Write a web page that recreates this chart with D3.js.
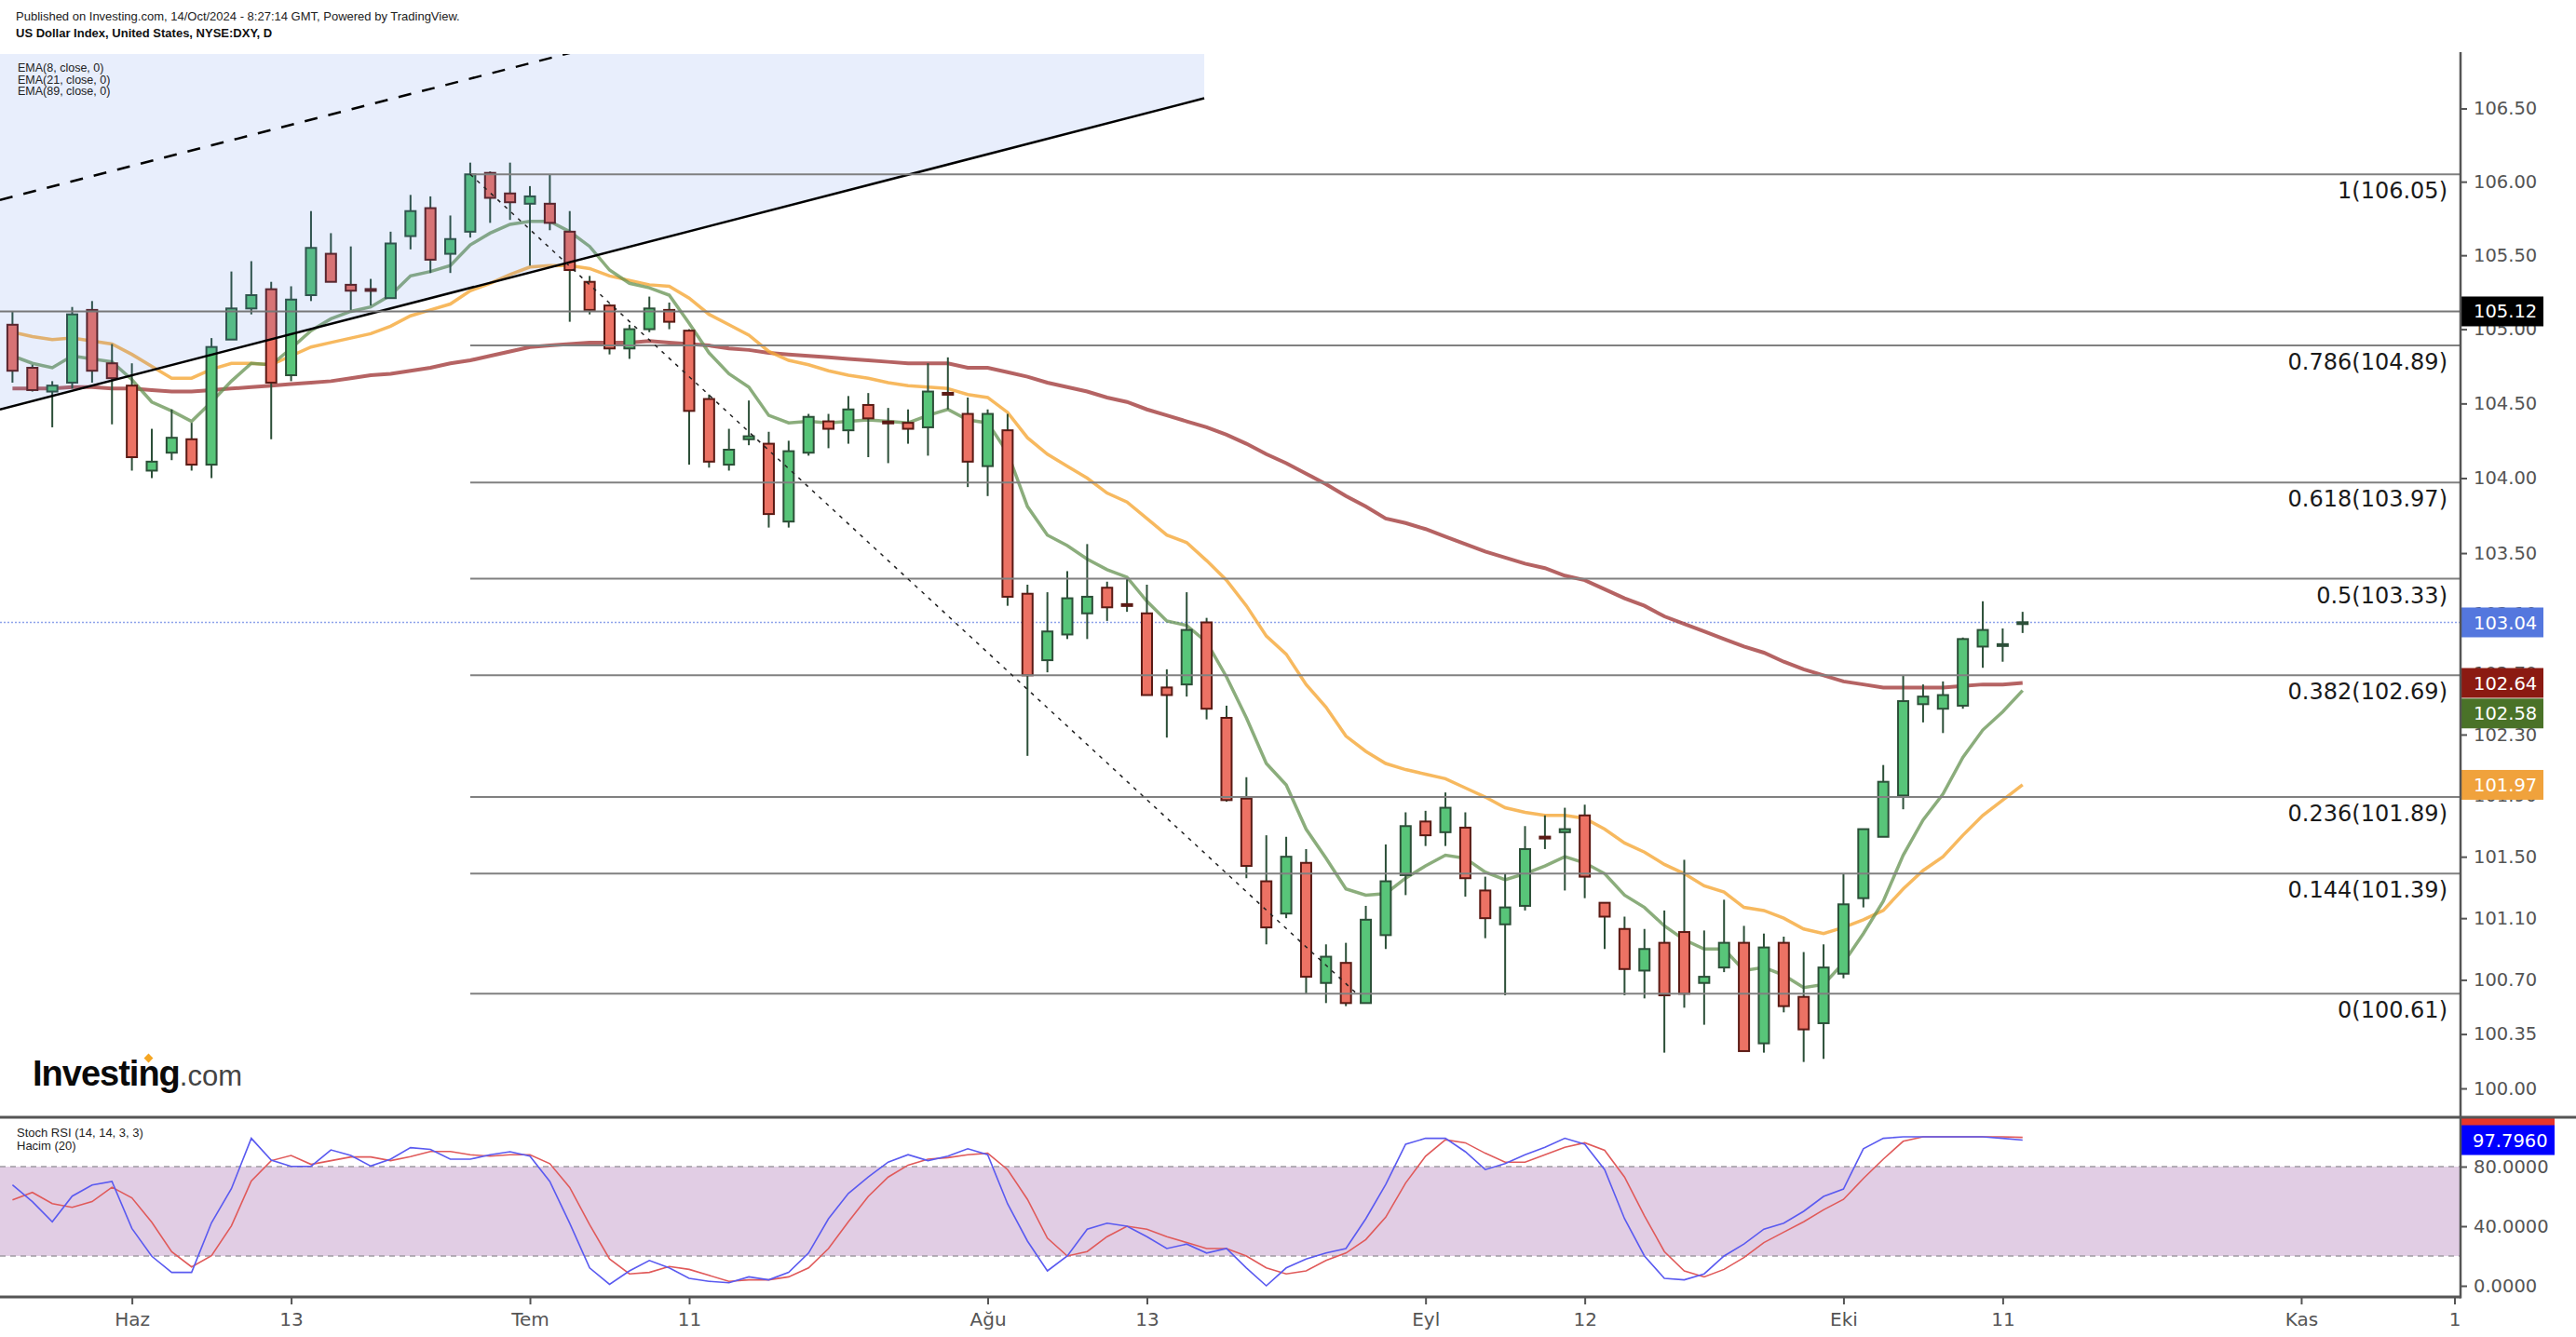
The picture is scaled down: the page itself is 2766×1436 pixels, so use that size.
<!DOCTYPE html>
<html><head><meta charset="utf-8">
<script src="https://cdn.jsdelivr.net/npm/d3@7"></script>
<style>body{margin:0;background:#fff;}svg{display:block}</style>
</head><body>
<svg id="c" width="2766" height="1436"></svg>
<script>
// ---------- DATA ----------
const days = ("05-24 05-27 05-28 05-29 05-30 05-31 06-03 06-04 06-05 06-06 06-07 06-10 06-11 06-12 06-13 06-14 06-17 06-18 06-19 06-20 06-21 06-24 06-25 06-26 06-27 06-28 " +
  "07-01 07-02 07-03 07-04 07-05 07-08 07-09 07-10 07-11 07-12 07-15 07-16 07-17 07-18 07-19 07-22 07-23 07-24 07-25 07-26 07-29 07-30 07-31 " +
  "08-01 08-02 08-05 08-06 08-07 08-08 08-09 08-12 08-13 08-14 08-15 08-16 08-19 08-20 08-21 08-22 08-23 08-26 08-27 08-28 08-29 08-30 " +
  "09-02 09-03 09-04 09-05 09-06 09-09 09-10 09-11 09-12 09-13 09-16 09-17 09-18 09-19 09-20 09-23 09-24 09-25 09-26 09-27 09-30 " +
  "10-01 10-02 10-03 10-04 10-07 10-08 10-09 10-10 10-11 10-14").split(" ");

const open = [105.03,104.74,104.58,104.64,105.13,104.77,104.62,104.05,104.17,104.26,104.09,104.93,105.14,105.27,104.69,105.23,105.51,105.30,105.27,105.21,105.63,105.82,105.51,105.66,106.06,105.92,
  105.85,105.85,105.66,105.32,105.16,104.87,105.00,105.13,104.99,104.53,104.09,104.26,104.23,103.71,104.17,104.38,104.32,104.49,104.375,104.37,104.34,104.57,104.43,
  104.08,104.32,103.23,102.79,102.96,103.10,103.27,103.16,103.10,102.61,102.63,103.04,102.41,101.88,101.34,101.13,101.46,100.68,100.81,100.55,100.99,
  101.38,101.73,101.66,101.69,101.28,101.06,101.18,101.63,101.66,101.77,101.20,101.03,100.76,100.94,101.01,100.68,100.78,100.94,100.29,100.94,100.59,100.42,
  100.74,101.23,101.63,101.90,102.50,102.47,102.49,102.88,102.89,103.03];
const high = [105.12,104.76,104.65,105.15,105.19,104.90,104.77,104.33,104.46,104.37,104.94,105.39,105.46,105.32,105.29,105.80,105.65,105.56,105.34,105.66,105.91,105.90,105.77,106.13,106.07,106.13,
  105.97,106.05,105.80,105.36,105.17,105.03,105.22,105.18,105.00,104.56,104.33,104.52,104.31,104.25,104.43,104.43,104.55,104.57,104.47,104.46,104.77,104.81,104.54,
  104.46,104.43,103.29,103.24,103.38,103.56,103.31,103.33,103.29,102.73,103.24,103.07,102.49,102.02,101.64,101.63,101.55,100.93,100.94,101.18,101.58,
  101.79,101.80,101.92,101.79,101.37,101.39,101.70,101.77,101.82,101.84,101.20,101.11,101.03,101.15,101.48,101.02,101.22,101.05,101.00,100.98,100.88,100.93,
  101.39,101.68,102.10,102.69,102.63,102.65,102.94,103.18,103.00,103.11];
const low = [104.64,104.58,104.34,104.60,104.64,104.36,104.05,104.00,104.12,104.05,104.00,104.93,105.10,104.26,104.65,105.19,105.32,105.13,105.16,105.21,105.54,105.38,105.38,105.62,105.72,105.74,
  105.43,105.67,105.05,105.10,104.83,104.80,104.98,105.00,104.09,104.07,104.05,104.22,103.67,103.67,104.15,104.20,104.23,104.14,104.10,104.23,104.15,104.46,103.94,
  103.88,103.15,102.16,102.71,102.93,102.93,103.05,103.11,102.56,102.28,102.55,102.40,101.86,101.36,100.93,101.10,100.61,100.55,100.53,100.55,100.90,
  101.25,101.57,101.57,101.24,100.97,100.60,101.15,101.55,101.28,101.23,100.90,100.60,100.58,100.23,100.52,100.41,100.75,100.24,100.23,100.49,100.17,100.19,
  100.71,101.17,101.63,101.81,102.38,102.31,102.47,102.74,102.78,102.97];
const close = [104.72,104.59,104.62,105.10,104.72,104.67,104.14,104.11,104.27,104.09,104.88,105.14,105.23,104.64,105.20,105.55,105.32,105.26,105.26,105.58,105.80,105.47,105.61,106.05,105.89,105.86,
  105.90,105.72,105.40,105.13,104.87,105.00,105.14,105.05,104.45,104.11,104.19,104.28,103.76,104.18,104.41,104.33,104.46,104.40,104.37,104.33,104.58,104.56,104.11,
  104.43,103.21,102.69,102.98,103.20,103.21,103.14,103.15,102.56,102.56,102.99,102.47,101.87,101.44,101.04,101.50,100.72,100.85,100.55,101.09,101.34,
  101.70,101.64,101.82,101.36,101.10,101.17,101.55,101.62,101.68,101.37,101.11,100.77,100.90,100.60,100.61,100.72,100.94,100.24,100.91,100.53,100.38,100.78,
  101.19,101.68,101.99,102.52,102.55,102.56,102.93,102.99,102.89,103.04];

const ema8 = [104.82,104.77,104.74,104.82,104.80,104.78,104.66,104.51,104.45,104.38,104.51,104.65,104.77,104.76,104.87,104.99,105.07,105.12,105.15,105.23,105.36,105.39,105.43,105.57,105.65,105.71,
  105.73,105.73,105.66,105.56,105.40,105.31,105.28,105.23,105.04,104.84,104.70,104.61,104.42,104.37,104.38,104.37,104.38,104.39,104.38,104.37,104.42,104.46,104.39,
  104.37,104.17,103.81,103.62,103.55,103.46,103.39,103.34,103.18,103.05,103.02,102.91,102.68,102.41,102.11,101.97,101.68,101.49,101.29,101.25,101.26,
  101.36,101.44,101.51,101.49,101.40,101.35,101.39,101.44,101.50,101.46,101.39,101.25,101.17,101.05,100.96,100.90,100.90,100.76,100.78,100.73,100.65,100.67,
  100.81,101.00,101.21,101.51,101.74,101.91,102.15,102.33,102.45,102.59];
const ema21 = [104.98,104.95,104.93,104.94,104.92,104.90,104.83,104.75,104.67,104.67,104.73,104.77,104.77,104.76,104.82,104.88,104.91,104.94,104.97,105.02,105.09,105.13,105.17,105.26,105.31,105.37,
  105.42,105.43,105.43,105.41,105.36,105.33,105.30,105.29,105.21,105.10,105.03,104.96,104.85,104.79,104.76,104.72,104.69,104.67,104.64,104.62,104.61,104.60,104.56,
  104.54,104.44,104.27,104.16,104.08,104.00,103.90,103.84,103.73,103.62,103.57,103.45,103.32,103.15,102.95,102.83,102.63,102.48,102.29,102.19,102.11,
  102.07,102.04,102.01,101.95,101.89,101.82,101.79,101.77,101.77,101.75,101.68,101.59,101.53,101.45,101.39,101.31,101.27,101.17,101.15,101.10,101.03,101.00,
  101.04,101.09,101.15,101.29,101.41,101.50,101.64,101.77,101.87,101.97];
const ema89 = [104.60,104.60,104.60,104.61,104.61,104.60,104.60,104.59,104.58,104.58,104.59,104.60,104.61,104.62,104.63,104.64,104.65,104.67,104.69,104.70,104.72,104.74,104.77,104.79,104.82,104.85,
  104.88,104.89,104.90,104.91,104.91,104.91,104.92,104.91,104.90,104.89,104.87,104.86,104.84,104.83,104.82,104.81,104.80,104.79,104.78,104.77,104.77,104.77,104.74,
  104.74,104.71,104.68,104.64,104.61,104.58,104.54,104.51,104.46,104.42,104.38,104.34,104.29,104.23,104.16,104.10,104.03,103.96,103.88,103.81,103.73,
  103.70,103.66,103.61,103.56,103.51,103.47,103.43,103.40,103.35,103.32,103.26,103.20,103.15,103.08,103.03,102.98,102.93,102.88,102.84,102.78,102.73,102.69,
  102.65,102.63,102.61,102.61,102.61,102.61,102.62,102.63,102.63,102.64];

const stochK = [67.7,56.5,42.9,60.2,67.7,70,38.5,19.8,9,9,42.3,65.2,99,84.4,80.2,80.2,91.2,87.5,80.4,85,92.7,91.6,85,85,88,90,
  87,70,42,12,1,10,17,12,5,3,2,6,4,9,22,45,62,73,83,88,84,87,92,
  88,55,30,10,20,38,42,40,33,25,28,22,25,12,0,12,18,22,25,45,68,
  95,99,99,90,78,82,88,93,99,95,78,45,20,5,4,8,20,28,38,42,50,60,
  65,92,99,100,100,100,100,100,99,97.796];
const stochD = [57.7,62.7,55.2,52.7,56.5,66.2,59,42.7,22.9,12.7,20.2,40.2,70.4,84,87.5,81.5,84,86.5,86.5,84,86.7,90.2,90.2,88,87,88,
  88,82,66,41,18,8,9,13,11,7,3,4,4,6,12,25,43,60,73,81,85,86,88,
  89,78,58,32,20,23,33,40,38,33,29,25,25,20,12,8,10,17,22,31,46,
  69,87,98,96,89,83,83,88,93,96,91,73,47,23,10,6,11,19,29,36,43,51,
  58,72,85,97,100,100,100,100,100,99.6];

const fibLevels = ["1","0.786","0.618","0.5","0.382","0.236","0.144","0"];
const fibPrices = [106.05,104.89,103.97,103.33,102.69,101.89,101.39,100.61];
const fibAnchorIdx = [23, 67.55];
const fibAnchorPrice = [106.05, 100.61];

const priceTicks = [106.5,106,105.5,105,104.5,104,103.5,103.1,102.7,102.3,101.9,101.5,101.1,100.7,100.35,100];
const rsiTicks = [80,40,0];
const dateTickIdx = [6,14,26,34,49,57,71,79,92,100,115,122.7];
const dateTickLabels = ["Haz","13","Tem","11","Ağu","13","Eyl","12","Eki","11","Kas","1"];

const levelLine = 105.12;
const lastPrice = 103.04;
const channelIdx = [-0.63, 59.88];
const channelLower = [104.46, 106.57];
const channelMiddle = [105.876, 108.01];
const channelUpper = [107.31, 109.48];

const priceBoxes = [
  {v:105.12, label:"105.12", color:"#000000", shift:0},
  {v:103.04, label:"103.04", color:"#5477de", shift:0},
  {v:101.97, label:"101.97", color:"#f0a23c", shift:0},
  {v:102.64, label:"102.64", color:"#8b1a12", shift:0},
  {v:102.58, label:"102.58", color:"#4a7228", shift:23}
];

// ---------- LAYOUT ----------
const W = 2766, H = 1436;
const axisX = 2642;
const paneTop = 58, paneBottom = 1200, rsiBottom = 1393;
const AX = "DejaVu Sans, sans-serif", TX = "Liberation Sans, Arial, sans-serif";

const svg = d3.select("#c");
const x = d3.scaleLinear().domain([0, 123]).range([13.4, 13.4 + 123 * 21.37]);
const y = d3.scaleLog().domain([100, 106.5]).range([1169, 116.5]);
const yr = d3.scaleLinear().domain([0, 100]).range([1381, 1221]);

const defs = svg.append("defs");
defs.append("clipPath").attr("id","mainClip").append("rect").attr("x",0).attr("y",paneTop).attr("width",axisX).attr("height",paneBottom-paneTop);
defs.append("clipPath").attr("id","rsiClip").append("rect").attr("x",0).attr("y",paneBottom).attr("width",axisX).attr("height",rsiBottom-paneBottom);
defs.append("clipPath").attr("id","rsiAxisClip").append("rect").attr("x",axisX).attr("y",paneBottom).attr("width",W-axisX).attr("height",rsiBottom-paneBottom);

// header
svg.append("text").attr("x",17).attr("y",22).attr("font-family",TX).attr("font-size",13).attr("fill","#222")
  .text("Published on Investing.com, 14/Oct/2024 - 8:27:14 GMT, Powered by TradingView.");
svg.append("text").attr("x",17).attr("y",40).attr("font-family",TX).attr("font-size",13).attr("font-weight","bold").attr("fill","#111")
  .text("US Dollar Index, United States, NYSE:DXY, D");

const main = svg.append("g").attr("clip-path","url(#mainClip)");

main.append("line").attr("x1",0).attr("x2",axisX).attr("y1",y(lastPrice)).attr("y2",y(lastPrice))
  .attr("stroke","#8da2ea").attr("stroke-width",1.5).attr("stroke-dasharray","2,2");

// EMA lines
const line = d3.line().x((d,i)=>x(i)).y(d=>y(d));
main.append("path").datum(ema89).attr("d",line).attr("fill","none").attr("stroke","rgba(160,55,55,0.78)").attr("stroke-width",4);
main.append("path").datum(ema21).attr("d",line).attr("fill","none").attr("stroke","rgba(245,168,55,0.8)").attr("stroke-width",3.5);
main.append("path").datum(ema8).attr("d",line).attr("fill","none").attr("stroke","rgba(100,145,80,0.75)").attr("stroke-width",3.5);

// candles
const cg = main.append("g");
close.forEach((c,i)=>{
  const o = open[i], up = c >= o;
  const cx = x(i);
  cg.append("line").attr("x1",cx).attr("x2",cx).attr("y1",y(high[i])).attr("y2",y(low[i]))
    .attr("stroke","#2c4f38").attr("stroke-width",2);
  const top = y(Math.max(o,c)), bot = y(Math.min(o,c));
  const h = Math.max(bot-top, 1);
  if (h < 3) {
    cg.append("rect").attr("x",cx-6.5).attr("y",(top+bot)/2-2).attr("width",13).attr("height",4)
      .attr("fill", up ? "#2c4f38" : "#5a1a14");
  } else {
    cg.append("rect").attr("x",cx-5.5).attr("y",top).attr("width",11).attr("height",h)
      .attr("fill", up ? "#58c579" : "#ec7264")
      .attr("stroke", up ? "#2c4f38" : "#5a1a14").attr("stroke-width",2);
  }
});

// channel fill (drawn over series, translucent)
const chPts = [
  [x(channelIdx[0]), y(channelLower[0])], [x(channelIdx[1]), y(channelLower[1])],
  [x(channelIdx[1]), y(channelUpper[1])], [x(channelIdx[0]), y(channelUpper[0])]
];
main.append("path").attr("d", d3.line()(chPts) + "Z").attr("fill","rgba(80,120,230,0.13)");
main.append("line").attr("x1",x(channelIdx[0])).attr("y1",y(channelLower[0])).attr("x2",x(channelIdx[1])).attr("y2",y(channelLower[1]))
  .attr("stroke","#000").attr("stroke-width",2.5);
main.append("line").attr("x1",x(channelIdx[0])).attr("y1",y(channelMiddle[0])).attr("x2",x(channelIdx[1])).attr("y2",y(channelMiddle[1]))
  .attr("stroke","#000").attr("stroke-width",2.5).attr("stroke-dasharray","14,12");

main.append("line").attr("x1",0).attr("x2",axisX).attr("y1",y(levelLine)).attr("y2",y(levelLine))
  .attr("stroke","#777").attr("stroke-width",2);

// fib lines
const fibX0 = x(fibAnchorIdx[0]);
fibPrices.forEach((p,k)=>{
  main.append("line").attr("x1",fibX0).attr("x2",axisX).attr("y1",y(p)).attr("y2",y(p))
    .attr("stroke","#808080").attr("stroke-width",2);
  main.append("text").attr("x",2628).attr("y",y(p)+26).attr("text-anchor","end")
    .attr("font-family",AX).attr("font-size",24).attr("fill","#1a1a1a")
    .text(fibLevels[k] + "(" + p.toFixed(2) + ")");
});
main.append("line").attr("x1",x(fibAnchorIdx[0])).attr("y1",y(fibAnchorPrice[0]))
  .attr("x2",x(fibAnchorIdx[1])).attr("y2",y(fibAnchorPrice[1]))
  .attr("stroke","#222").attr("stroke-width",1.5).attr("stroke-dasharray","4,6");

// EMA legend
["EMA(8, close, 0)","EMA(21, close, 0)","EMA(89, close, 0)"].forEach((t,k)=>{
  svg.append("text").attr("x",19).attr("y",77+k*12.5).attr("font-family",TX).attr("font-size",12.5).attr("fill","#222").text(t);
});

// logo
const logo = svg.append("text").attr("x",35).attr("y",1166).attr("font-family",TX);
logo.append("tspan").attr("font-size",38).attr("font-weight","bold").attr("fill","#0a0a0a").attr("letter-spacing",-1).text("Investing");
logo.append("tspan").attr("font-size",31).attr("fill","#444").text(".com");
svg.append("rect").attr("x",156).attr("y",1133).attr("width",7).attr("height",7).attr("fill","#f5a623")
  .attr("transform","rotate(45,159.5,1136.5)");

// ---------- RSI pane ----------
const rsi = svg.append("g").attr("clip-path","url(#rsiClip)");
rsi.append("rect").attr("x",0).attr("width",axisX).attr("y",yr(80)).attr("height",yr(20)-yr(80)).attr("fill","#e1cde4");
[80,20].forEach(v=>rsi.append("line").attr("x1",0).attr("x2",axisX).attr("y1",yr(v)).attr("y2",yr(v))
  .attr("stroke","#a09aa2").attr("stroke-width",1.5).attr("stroke-dasharray","6,5"));
const rline = d3.line().x((d,i)=>x(i)).y(d=>yr(d));
rsi.append("path").datum(stochD).attr("d",rline).attr("fill","none").attr("stroke","#e05a5a").attr("stroke-width",1.6);
rsi.append("path").datum(stochK).attr("d",rline).attr("fill","none").attr("stroke","#5a5af0").attr("stroke-width",1.6);
svg.append("text").attr("x",18).attr("y",1221).attr("font-family",TX).attr("font-size",13).attr("fill","#222").text("Stoch RSI (14, 14, 3, 3)");
svg.append("text").attr("x",18).attr("y",1235).attr("font-family",TX).attr("font-size",13).attr("fill","#222").text("Hacim (20)");

// ---------- AXES ----------
const ya = svg.append("g").attr("transform",`translate(${axisX},0)`)
  .call(d3.axisRight(y).tickValues(priceTicks).tickFormat(d3.format(".2f")).tickSize(7).tickPadding(7));
ya.select(".domain").remove();
ya.selectAll("line").attr("stroke","#555").attr("stroke-width",2);
ya.selectAll("text").attr("font-family",AX).attr("font-size",19.5).attr("fill","#555");

const ra = svg.append("g").attr("transform",`translate(${axisX},0)`)
  .call(d3.axisRight(yr).tickValues(rsiTicks).tickFormat(d3.format(".4f")).tickSize(7).tickPadding(7));
ra.select(".domain").remove();
ra.selectAll("line").attr("stroke","#555").attr("stroke-width",2);
ra.selectAll("text").attr("font-family",AX).attr("font-size",19.5).attr("fill","#555");

const xa = svg.append("g").attr("transform",`translate(0,${rsiBottom})`)
  .call(d3.axisBottom(x).tickValues(dateTickIdx).tickFormat((d,i)=>dateTickLabels[i]).tickSize(8).tickPadding(9));
xa.select(".domain").remove();
xa.selectAll("line").attr("stroke","#555").attr("stroke-width",2);
xa.selectAll("text").attr("font-family",AX).attr("font-size",20).attr("fill","#555");

// price boxes
priceBoxes.forEach(b=>{
  const cy = y(b.v) + b.shift;
  svg.append("rect").attr("x",axisX).attr("y",cy-16).attr("width",89).attr("height",32).attr("fill",b.color);
  svg.append("text").attr("x",2656).attr("y",cy).attr("dy","0.36em").attr("font-family",AX).attr("font-size",19.5)
    .attr("fill","#fff").text(b.label);
});
// RSI boxes (clipped to the oscillator pane's axis area)
const rb = svg.append("g").attr("clip-path","url(#rsiAxisClip)");
const dLast = stochD[stochD.length-1], kLast = stochK[stochK.length-1];
rb.append("rect").attr("x",axisX).attr("y",yr(dLast)-16-14).attr("width",101).attr("height",32).attr("fill","#e8352a");
rb.append("rect").attr("x",axisX).attr("y",yr(kLast)-16).attr("width",101).attr("height",32).attr("fill","#0000ff");
rb.append("text").attr("x",2655).attr("y",yr(kLast)).attr("dy","0.36em").attr("font-family",AX).attr("font-size",19.5)
  .attr("fill","#fff").text(kLast.toFixed(4));

// frame lines
svg.append("line").attr("x1",axisX).attr("x2",axisX).attr("y1",56).attr("y2",rsiBottom+1.5).attr("stroke","#555").attr("stroke-width",2.5);
svg.append("line").attr("x1",0).attr("x2",W).attr("y1",paneBottom).attr("y2",paneBottom).attr("stroke","#555").attr("stroke-width",3);
svg.append("line").attr("x1",0).attr("x2",axisX).attr("y1",rsiBottom).attr("y2",rsiBottom).attr("stroke","#555").attr("stroke-width",3);
</script>
</body></html>
